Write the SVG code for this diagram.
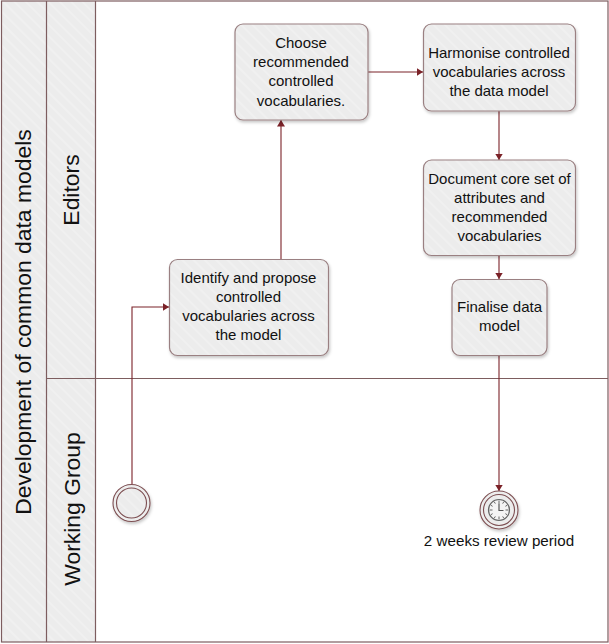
<svg xmlns="http://www.w3.org/2000/svg" width="609" height="644" viewBox="0 0 609 644">
<style>
text{font-family:"Liberation Sans",Arial,sans-serif;fill:#111}
.t{font-size:15px;text-anchor:middle}
.lbl{font-size:15.2px;text-anchor:middle}
.lane{font-size:22.9px;text-anchor:middle}
.band{fill:url(#hatch)}
.ln{fill:none;stroke:#7d5d5f;stroke-width:1.2}
.box{fill:url(#hatch);stroke:#9a8082;stroke-width:1.2;filter:url(#sh)}
.ev{fill:url(#hatch);stroke:#7d4f52;stroke-width:1.1}
.c{fill:none;stroke:#7b2228;stroke-width:1.1;marker-end:url(#arr)}
</style>
<defs>
<pattern id="hatch" width="8" height="8" patternUnits="userSpaceOnUse" patternTransform="rotate(-45)">
<rect width="8" height="8" fill="#ececec"/><rect width="2" height="8" fill="#f0f0f0"/>
</pattern>
<filter id="sh" x="-10%" y="-10%" width="125%" height="125%"><feDropShadow dx="1" dy="2" stdDeviation="1.5" flood-color="#000" flood-opacity=".22"/></filter>
<marker id="arr" markerUnits="userSpaceOnUse" markerWidth="9" markerHeight="8" refX="6.500" refY="4" orient="auto"><path d="M0,0L6.500,4L0,8Z" fill="#7b2228"/></marker>
</defs>
<rect width="609" height="644" fill="#fff"/>
<g id="pool">
<rect class="band" x="1.5" y="1" width="45" height="641"/>
<rect class="band" x="46.5" y="1" width="49" height="641"/>
<rect class="ln" x="1.5" y="1" width="606.5" height="641"/>
<path class="ln" d="M46.5,1V642M95.5,1V642M46.5,378.5H608"/>
<text class="lane" transform="translate(31,322) rotate(-90)">Development of common data models</text>
</g>
<g id="lane-editors"><text class="lane" transform="translate(79,190) rotate(-90)">Editors</text></g>
<g id="lane-working-group"><text class="lane" transform="translate(79.500,509) rotate(-90)">Working Group</text></g>
<g id="connectors">
<path class="c" d="M132,484V307H169"/>
<path class="c" d="M281,259V120"/>
<path class="c" d="M368,72H423"/>
<path class="c" d="M499,110V160"/>
<path class="c" d="M499,255V279"/>
<path class="c" d="M499,355V491"/>
</g>
<g id="identify"><rect class="box" x="169.500" y="259.500" width="159" height="96" rx="8"/>
<text class="t" x="248.500" y="283">Identify and propose</text><text class="t" x="248.500" y="302">controlled</text><text class="t" x="248.500" y="321">vocabularies across</text><text class="t" x="248.500" y="340">the model</text></g>
<g id="choose"><rect class="box" x="235" y="24" width="133" height="96" rx="8"/>
<text class="t" x="301" y="48">Choose</text><text class="t" x="301" y="67">recommended</text><text class="t" x="301" y="86">controlled</text><text class="t" x="301" y="106">vocabularies.</text></g>
<g id="harmonise"><rect class="box" x="423.500" y="24" width="152" height="87" rx="8"/>
<text class="t" x="499" y="58">Harmonise controlled</text><text class="t" x="499" y="77">vocabularies across</text><text class="t" x="499" y="96">the data model</text></g>
<g id="document"><rect class="box" x="423.500" y="160" width="152" height="95.500" rx="8"/>
<text class="t" x="499.500" y="184">Document core set of</text><text class="t" x="499.500" y="203">attributes and</text><text class="t" x="499.500" y="222">recommended</text><text class="t" x="499.500" y="241">vocabularies</text></g>
<g id="finalise"><rect class="box" x="452" y="279.500" width="95" height="76" rx="8"/>
<text class="t" x="499.500" y="312">Finalise data</text><text class="t" x="499.500" y="331">model</text></g>
<g id="start"><circle class="ev" cx="131.500" cy="503" r="18.500" style="filter:url(#sh)"/><circle class="ev" cx="131.500" cy="503" r="15"/></g>
<g id="timer"><circle class="ev" cx="499" cy="510" r="19" style="filter:url(#sh)"/><circle class="ev" cx="499" cy="510" r="15.500"/>
<circle cx="499" cy="510" r="10.500" fill="#f4f4f4" stroke="#666" stroke-width="1.2"/>
<path d="M499,500.500v3M499,516.500v3M489.500,510h3M505.500,510h3M494.300,501.900l1,1.700M503.700,501.900l-1,1.700M490.900,505.300l1.700,1M507.100,505.300l-1.700,1M490.900,514.700l1.700,-1M507.100,514.700l-1.700,-1M494.300,518.100l1,-1.700M503.700,518.100l-1,-1.700" stroke="#666" stroke-width="1" fill="none"/>
<path d="M499,503.500V510.500H503.500" stroke="#555" stroke-width="1.2" fill="none"/>
<text class="lbl" x="499" y="546">2 weeks review period</text></g>
</svg>
